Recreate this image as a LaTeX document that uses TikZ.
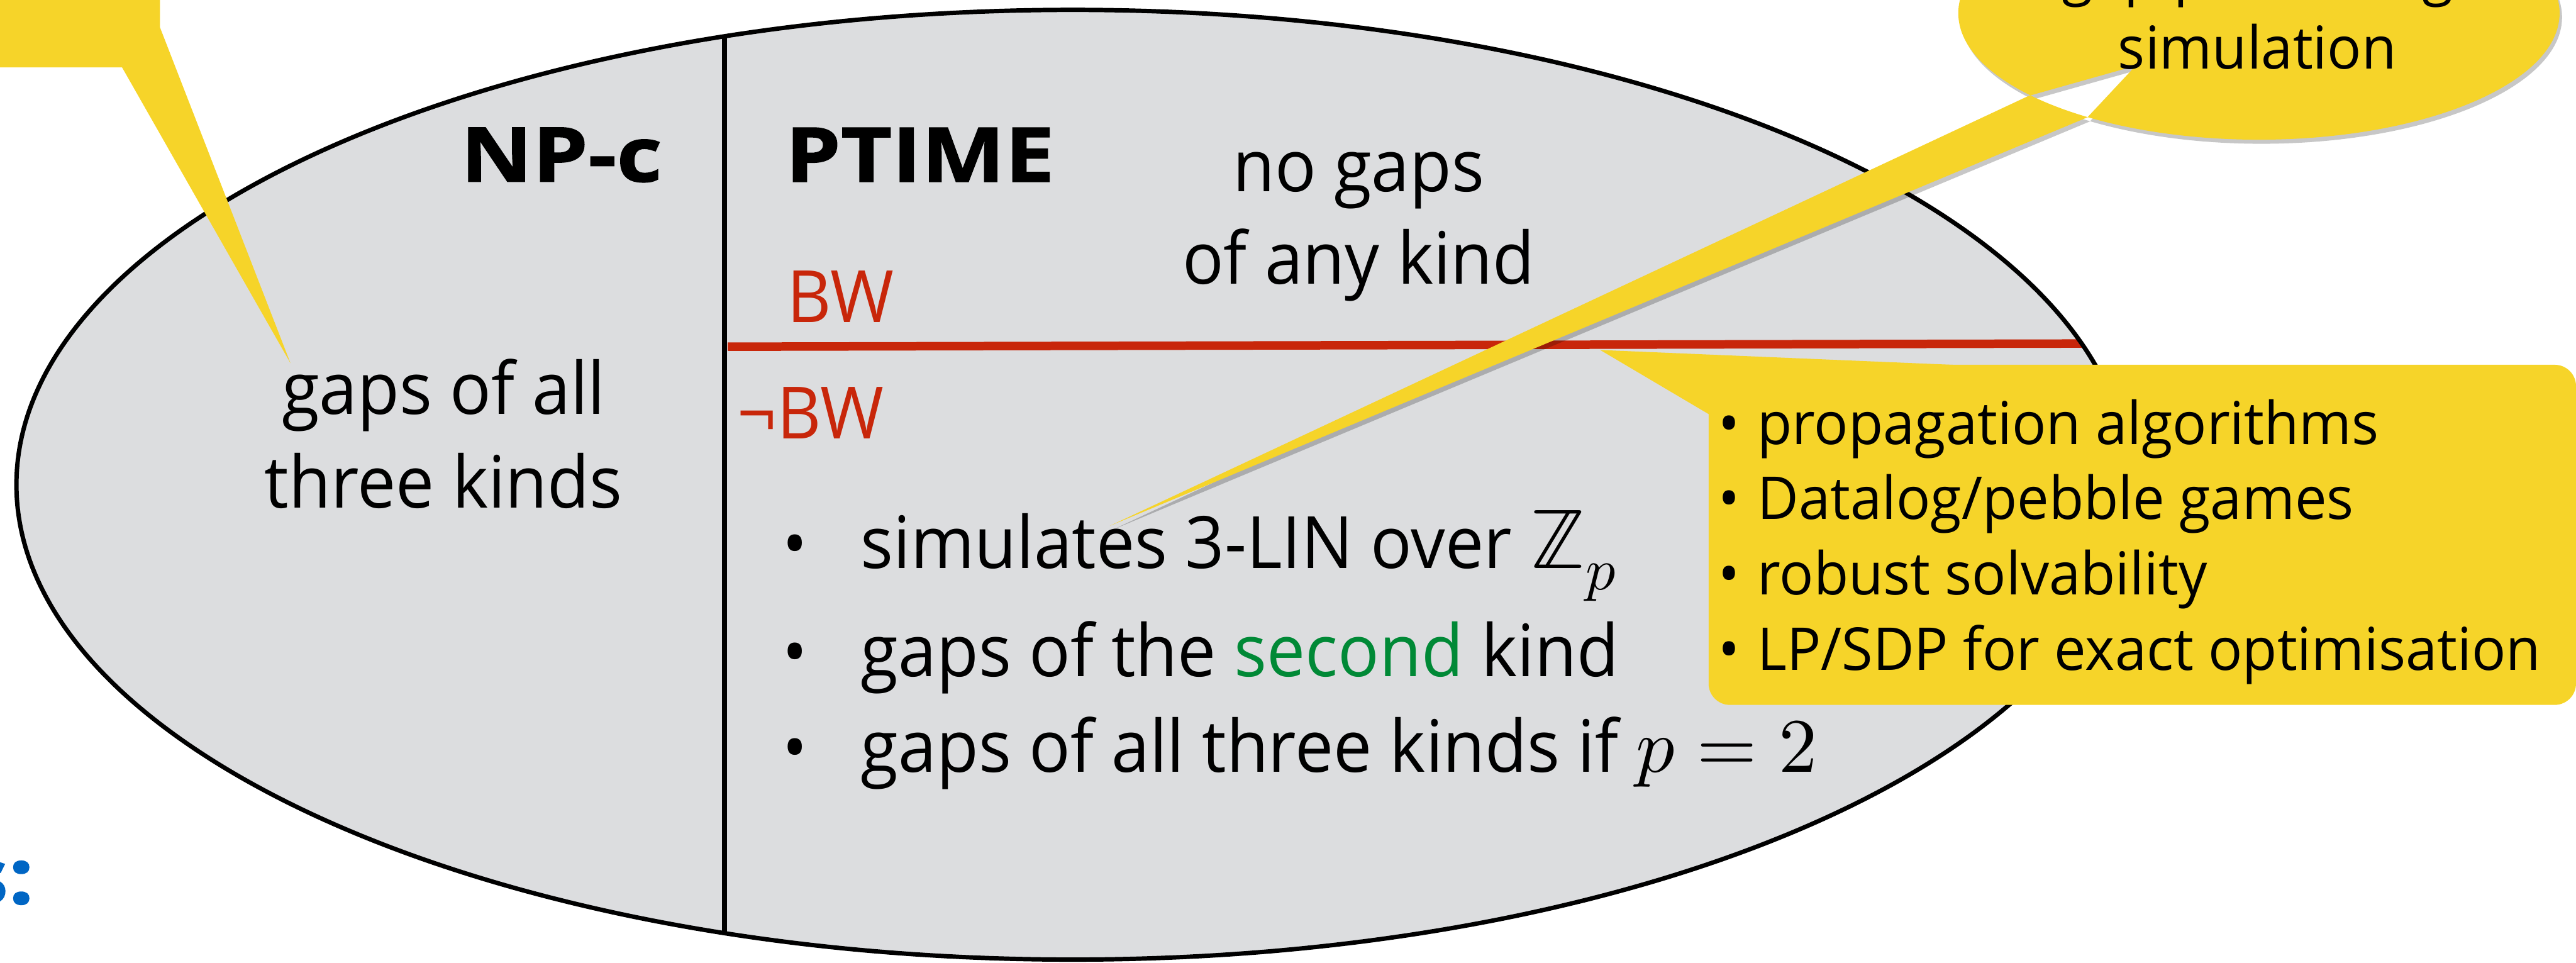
\documentclass[tikz,border=0pt]{standalone}
\usepackage{fontspec}
\usepackage{unicode-math}
\setmainfont{Open Sans}[FakeStretch=0.95]
\newfontfamily\boxfam{Open Sans}[FakeStretch=0.96]
\newfontfamily\boldfam{Open Sans}[FakeStretch=1.17, BoldFeatures={FakeBold=1.2}]
\definecolor{ellgray}{RGB}{220,221,223}
\definecolor{cyellow}{RGB}{246,212,41}
\definecolor{bwred}{RGB}{200,38,10}
\definecolor{secgreen}{RGB}{0,137,54}
\definecolor{sblue}{RGB}{0,102,196}
\begin{document}
\begin{tikzpicture}[x=0.3mm,y=-0.3mm,
  txt/.style={inner sep=0pt, outer sep=0pt, font=\fontsize{37.5}{45}\selectfont},
  redtxt/.style={txt, text=bwred},
  boxtxt/.style={inner sep=0pt, outer sep=0pt, font=\boxfam\fontsize{30.7}{39}\selectfont},
  hdr/.style={inner sep=0pt, outer sep=0pt, font=\boldfam\bfseries\fontsize{39.3}{45}\selectfont},
  bul/.style={inner sep=0pt, outer sep=0pt, font=\fontsize{36}{40}\selectfont}]
\useasboundingbox (0,0) rectangle (1568,586);

% main ellipse
\begin{scope}
  \path[fill=ellgray] (653,295) ellipse [x radius=643, y radius=289];
  \clip (653,295) ellipse [x radius=643, y radius=289];
  \draw[line width=1.0mm] (441,-10) -- (441,600);
  \draw[bwred, line width=1.55mm] (443,211) -- (1300,209);
\end{scope}
\draw[line width=0.8mm] (653,295) ellipse [x radius=643, y radius=289];

% texts in ellipse
\node[hdr, anchor=base east] (npc) at (403,110.5) {NP-c};
\node[hdr, anchor=base west] (ptime) at (478,110.6) {PTIME};
\node[txt, anchor=base] (nogapsA) at (827,116.5) {no gaps};
\node[txt, anchor=base] (nogapsB) at (827,173) {of any kind};
\node[txt, anchor=base] (allgapsA) at (270,252) {gaps of all};
\node[txt, anchor=base] (allgapsB) at (270,309) {three kinds};
\node[redtxt, anchor=base west] (bw) at (479,196) {BW};
\node[redtxt, anchor=base west] (nbw) at (449,267) {¬BW};

\node[bul, anchor=base] (bulA) at (484,346) {•};
\node[bul, anchor=base] (bulB) at (484,411.6) {•};
\node[bul, anchor=base] (bulC) at (484,469.8) {•};
\node[txt, anchor=base west] (lineA) at (524,346) {simulates 3-LIN over {\fontsize{44}{45}\selectfont$\mathbb{Z}_p$}};
\node[txt, anchor=base west] (lineB) at (524,411.6) {gaps of the \textcolor{secgreen}{second} kind};
\node[txt, anchor=base west] (lineC) at (524,469.8) {gaps of all three kinds if {\fontsize{40}{45}\selectfont$p=2$}};

% right box callout
\fill[cyellow, rounded corners=3.9mm] (1040,222) rectangle (1568,429);
\fill[cyellow] (974,213) -- (1200,222.5) -- (1040,252) -- cycle;
\node[boxtxt, anchor=base west] (pA) at (1046,270.6) {•\hspace{0.3em}propagation algorithms};
\node[boxtxt, anchor=base west] (pB) at (1046,316) {•\hspace{0.3em}Datalog/pebble games};
\node[boxtxt, anchor=base west] (pC) at (1046,362) {•\hspace{0.3em}robust solvability};
\node[boxtxt, anchor=base west] (pD) at (1046,408) {•\hspace{0.3em}LP/SDP for exact optimisation};

% top-left callout
\fill[cyellow] (-5,-5) -- (97.4,-5) -- (97.4,16.7) -- (176.8,221) -- (74.3,41) -- (-5,41) -- cycle;

% top-right callout with shadow
\fill[black, opacity=0.22] (1376.5,10.5) ellipse [x radius=183, y radius=77]
  (1301.5,42.5) -- (1236.2,60.9) -- (677,322.5) -- (1272.1,73.9) -- cycle;
\fill[cyellow] (1375,8) ellipse [x radius=183, y radius=77]
  (1300,40) -- (1234.7,58.4) -- (675.6,320) -- (1270.6,71.4) -- cycle;
\node[boxtxt, anchor=base] (gp) at (1374,-4) {gap preserving};
\node[boxtxt, anchor=base] (sim) at (1374,42) {simulation};

% bottom-left blue text
\node[inner sep=0pt, anchor=base east, text=sblue, font=\boldfam\bfseries\fontsize{40}{45}\selectfont] (slabel) at (21,550) {s:};
\end{tikzpicture}
\end{document}
